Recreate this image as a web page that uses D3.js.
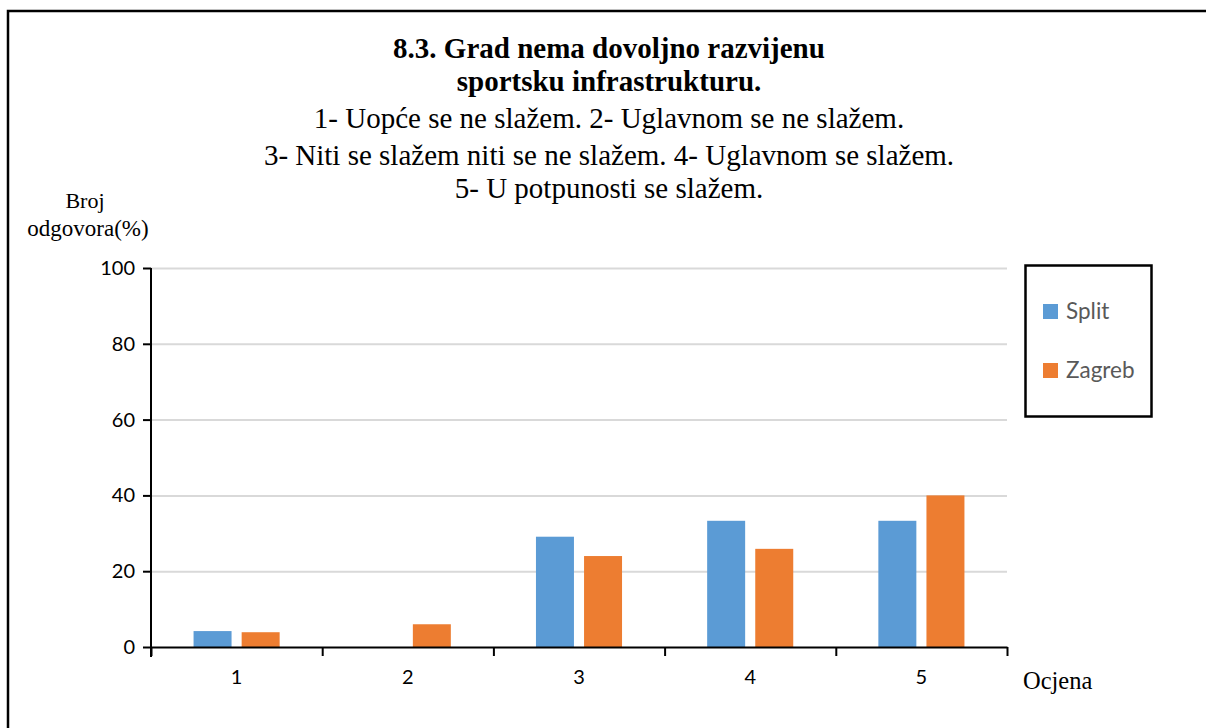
<!DOCTYPE html>
<html>
<head>
<meta charset="utf-8">
<script src="https://cdn.jsdelivr.net/npm/d3@7"></script>
<style>
	body { margin: 0; background: #fff; }
	.axis text { font-family: Lato, "Open Sans", sans-serif; }
</style>
</head>
<body>
<div id="chart"></div>
<script>
// chart data
const categories = ["1", "2", "3", "4", "5"];
const seriesNames = ["Split", "Zagreb"];
const splitValues = [4.2, 0, 29.1, 33.3, 33.3];
const zagrebValues = [3.9, 6, 24, 25.9, 40];
const yTicks = [0, 20, 40, 60, 80, 100];
const colors = ["#5b9bd5", "#ed7d31"];

const titleLines = ["8.3. Grad nema dovoljno razvijenu", "sportsku infrastrukturu."];
const subtitleLines = [
	"1- Uopće se ne slažem. 2- Uglavnom se ne slažem.",
	"3- Niti se slažem niti se ne slažem. 4- Uglavnom se slažem.",
	"5- U potpunosti se slažem."
];

const data = categories.map((c, i) => ({cat: c, Split: splitValues[i], Zagreb: zagrebValues[i]}));

// dimensions
const W = 1206, H = 728;
const margin = {top: 268, left: 151};
const width = 856, height = 379;

const svg = d3.select("#chart").append("svg")
	.attr("width", W)
	.attr("height", H);

// outer frame
svg.append("rect")
	.attr("x", 8).attr("y", 11)
	.attr("width", W).attr("height", H)
	.attr("fill", "none")
	.attr("stroke", "#000")
	.attr("stroke-width", 2.5);

// title
const serif = "'Liberation Serif', 'Times New Roman', serif";
const titleY = [58, 91];
titleLines.forEach((t, i) => {
	svg.append("text")
		.attr("x", 609).attr("y", titleY[i])
		.attr("text-anchor", "middle")
		.attr("font-family", serif)
		.attr("font-weight", "bold")
		.attr("font-size", 29)
		.text(t);
});
const subY = [128, 165, 198];
subtitleLines.forEach((t, i) => {
	svg.append("text")
		.attr("x", 609).attr("y", subY[i])
		.attr("text-anchor", "middle")
		.attr("font-family", serif)
		.attr("font-size", 29)
		.text(t);
});

// y axis title
svg.append("text")
	.attr("x", 85).attr("y", 208)
	.attr("text-anchor", "middle")
	.attr("font-family", serif)
	.attr("font-size", 22)
	.text("Broj");
svg.append("text")
	.attr("x", 88).attr("y", 236)
	.attr("text-anchor", "middle")
	.attr("font-family", serif)
	.attr("font-size", 23)
	.text("odgovora(%)");

// x axis title
svg.append("text")
	.attr("x", 1023).attr("y", 689)
	.attr("font-family", serif)
	.attr("font-size", 24.5)
	.text("Ocjena");

const g = svg.append("g")
	.attr("transform", "translate(" + margin.left + "," + margin.top + ")");

// scales
const x0 = d3.scaleBand().domain(categories).range([0, width]).paddingInner(0).paddingOuter(0);
const x1 = d3.scaleBand().domain(seriesNames).range([0, x0.bandwidth()]).paddingInner(0.21).paddingOuter(0.885);
const xEdge = d3.scaleLinear().domain([0, categories.length]).range([0, width]);
const y = d3.scaleLinear().domain([0, 100]).range([height, 0]);

// gridlines
g.append("g")
	.attr("class", "grid")
	.call(d3.axisLeft(y).tickValues(yTicks.slice(1)).tickSize(-width).tickFormat(""))
	.call(s => s.select(".domain").remove())
	.call(s => s.selectAll("line").attr("stroke", "#d9d9d9").attr("stroke-width", 2));

// bars
const groups = g.selectAll(".group")
	.data(data)
	.enter().append("g")
	.attr("class", "group")
	.attr("transform", d => "translate(" + x0(d.cat) + ",0)");

groups.selectAll("rect")
	.data(d => seriesNames.map((s, i) => ({key: s, value: d[s], color: colors[i]})))
	.enter().append("rect")
	.attr("x", d => x1(d.key))
	.attr("width", x1.bandwidth())
	.attr("y", d => y(d.value))
	.attr("height", d => height - y(d.value))
	.attr("fill", d => d.color);

// y axis
g.append("g")
	.attr("class", "y-axis axis")
	.call(d3.axisLeft(y).tickValues(yTicks).tickSize(8).tickPadding(8).tickSizeOuter(0))
	.call(s => s.select(".domain").attr("stroke", "#000").attr("stroke-width", 2)
		.attr("d", "M0,0V" + (height + 10)))
	.call(s => s.selectAll("line").attr("stroke", "#000").attr("stroke-width", 2))
	.call(s => s.selectAll("text").attr("font-size", 20).attr("fill", "#000"));

// x axis boundary ticks
g.append("g")
	.attr("class", "x-axis axis")
	.attr("transform", "translate(0," + height + ")")
	.call(d3.axisBottom(xEdge).tickValues(d3.range(categories.length + 1)).tickFormat("").tickSize(9).tickSizeOuter(0))
	.call(s => s.select(".domain").attr("stroke", "#000").attr("stroke-width", 2))
	.call(s => s.selectAll("line").attr("stroke", "#000").attr("stroke-width", 2));

// x axis labels
g.append("g")
	.attr("class", "x-labels axis")
	.attr("transform", "translate(0," + height + ")")
	.call(d3.axisBottom(x0).tickSize(0).tickPadding(23))
	.call(s => s.select(".domain").remove())
	.call(s => s.selectAll("text").attr("font-size", 20).attr("fill", "#000"));

// legend
const legend = svg.append("g").attr("class", "legend");
legend.append("rect")
	.attr("x", 1025.5).attr("y", 265.5)
	.attr("width", 126).attr("height", 151)
	.attr("fill", "#fff")
	.attr("stroke", "#000")
	.attr("stroke-width", 2.5);
seriesNames.forEach((s, i) => {
	legend.append("rect")
		.attr("x", 1043).attr("y", 304 + i * 59)
		.attr("width", 15).attr("height", 15)
		.attr("fill", colors[i]);
	legend.append("text")
		.attr("x", 1066).attr("y", 319 + i * 59)
		.attr("font-family", "Lato, 'Open Sans', sans-serif")
		.attr("font-size", 22.5)
		.attr("fill", "#595959")
		.text(s);
});
</script>
</body>
</html>
